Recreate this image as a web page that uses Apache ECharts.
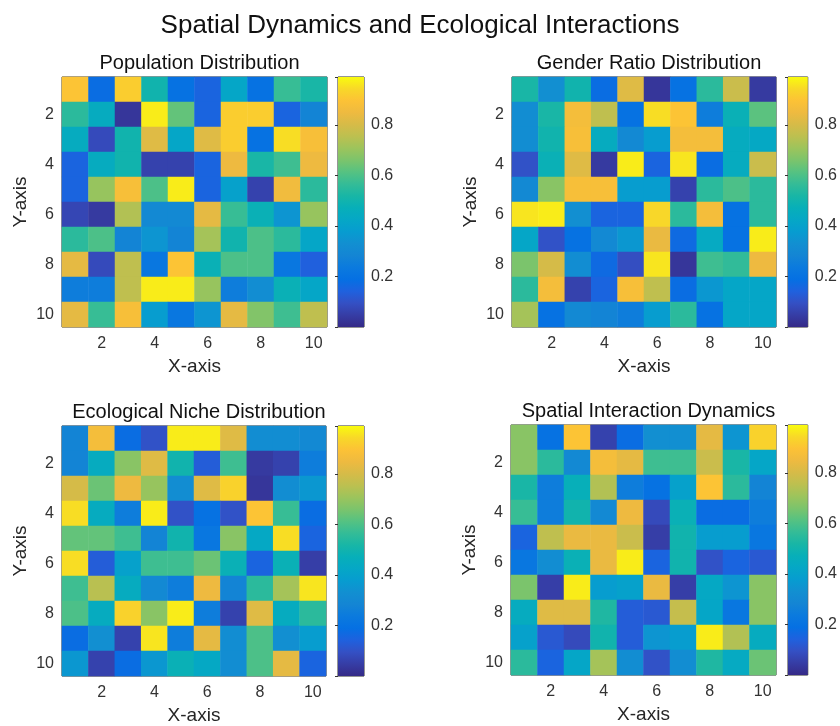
<!DOCTYPE html>
<html>
<head>
<meta charset="utf-8">
<script src="https://cdn.jsdelivr.net/npm/echarts@6/dist/echarts.min.js"></script>
<style>
  html, body { margin: 0; padding: 0; background: #ffffff; }
  #chart { width: 840px; height: 726px; }
</style>
</head>
<body>
<div id="chart"></div>
<script>
// Grid cell labels (1..10 on both axes)
const xCats = ['1', '2', '3', '4', '5', '6', '7', '8', '9', '10'];
const yCats = ['1', '2', '3', '4', '5', '6', '7', '8', '9', '10'];

// Colorbar range and tick labels
const cbRange = [0, 0.99];
const cbTicks = [0.2, 0.4, 0.6, 0.8];

// Each matrix: rows top (y=1) to bottom (y=10), columns x=1..10
const populationRows = [
  [0.90, 0.18, 0.92, 0.50, 0.20, 0.15, 0.42, 0.20, 0.57, 0.52],
  [0.55, 0.45, 0.03, 0.97, 0.63, 0.15, 0.92, 0.92, 0.15, 0.28],
  [0.45, 0.08, 0.50, 0.82, 0.42, 0.82, 0.92, 0.20, 0.95, 0.88],
  [0.15, 0.45, 0.50, 0.06, 0.06, 0.15, 0.85, 0.52, 0.58, 0.85],
  [0.15, 0.70, 0.88, 0.60, 0.97, 0.15, 0.40, 0.06, 0.86, 0.55],
  [0.07, 0.04, 0.74, 0.30, 0.30, 0.83, 0.57, 0.48, 0.35, 0.70],
  [0.55, 0.60, 0.28, 0.35, 0.28, 0.72, 0.50, 0.60, 0.55, 0.42],
  [0.83, 0.08, 0.76, 0.22, 0.90, 0.48, 0.60, 0.60, 0.22, 0.14],
  [0.25, 0.25, 0.76, 0.97, 0.97, 0.70, 0.25, 0.32, 0.48, 0.42],
  [0.83, 0.57, 0.88, 0.38, 0.22, 0.35, 0.83, 0.67, 0.58, 0.76]
];

const genderRows = [
  [0.52, 0.33, 0.50, 0.18, 0.82, 0.03, 0.20, 0.55, 0.78, 0.04],
  [0.32, 0.52, 0.87, 0.76, 0.20, 0.95, 0.90, 0.25, 0.48, 0.62],
  [0.32, 0.50, 0.88, 0.45, 0.30, 0.38, 0.87, 0.87, 0.45, 0.43],
  [0.10, 0.48, 0.82, 0.04, 0.97, 0.15, 0.96, 0.18, 0.45, 0.78],
  [0.30, 0.68, 0.88, 0.88, 0.38, 0.38, 0.06, 0.55, 0.60, 0.55],
  [0.96, 0.97, 0.33, 0.15, 0.15, 0.94, 0.55, 0.87, 0.20, 0.55],
  [0.42, 0.10, 0.20, 0.30, 0.36, 0.84, 0.17, 0.44, 0.20, 0.97],
  [0.66, 0.80, 0.32, 0.17, 0.09, 0.96, 0.03, 0.58, 0.56, 0.85],
  [0.55, 0.87, 0.06, 0.15, 0.88, 0.76, 0.18, 0.36, 0.42, 0.42],
  [0.72, 0.20, 0.30, 0.28, 0.25, 0.38, 0.55, 0.20, 0.42, 0.42]
];

const nicheRows = [
  [0.28, 0.87, 0.18, 0.10, 0.97, 0.97, 0.82, 0.32, 0.32, 0.30],
  [0.28, 0.45, 0.68, 0.82, 0.50, 0.13, 0.58, 0.04, 0.06, 0.25],
  [0.80, 0.64, 0.85, 0.70, 0.32, 0.82, 0.93, 0.03, 0.32, 0.36],
  [0.95, 0.45, 0.25, 0.97, 0.10, 0.20, 0.10, 0.90, 0.57, 0.18],
  [0.63, 0.63, 0.58, 0.28, 0.50, 0.22, 0.68, 0.43, 0.95, 0.15],
  [0.95, 0.13, 0.40, 0.58, 0.58, 0.64, 0.48, 0.15, 0.48, 0.05],
  [0.58, 0.75, 0.45, 0.30, 0.25, 0.85, 0.28, 0.55, 0.72, 0.96],
  [0.60, 0.45, 0.93, 0.68, 0.97, 0.25, 0.06, 0.82, 0.45, 0.55],
  [0.18, 0.33, 0.06, 0.96, 0.25, 0.83, 0.32, 0.60, 0.33, 0.38],
  [0.36, 0.06, 0.18, 0.36, 0.48, 0.43, 0.32, 0.60, 0.83, 0.15]
];

const spatialRows = [
  [0.68, 0.20, 0.90, 0.06, 0.18, 0.33, 0.33, 0.83, 0.35, 0.93],
  [0.68, 0.55, 0.30, 0.87, 0.83, 0.58, 0.58, 0.78, 0.52, 0.42],
  [0.52, 0.25, 0.47, 0.74, 0.25, 0.20, 0.40, 0.90, 0.55, 0.28],
  [0.57, 0.25, 0.50, 0.30, 0.85, 0.08, 0.48, 0.18, 0.18, 0.25],
  [0.15, 0.76, 0.84, 0.84, 0.78, 0.05, 0.50, 0.38, 0.38, 0.22],
  [0.22, 0.32, 0.48, 0.84, 0.97, 0.15, 0.50, 0.10, 0.15, 0.12],
  [0.66, 0.05, 0.97, 0.38, 0.40, 0.84, 0.05, 0.43, 0.35, 0.68],
  [0.45, 0.82, 0.82, 0.53, 0.13, 0.12, 0.77, 0.42, 0.22, 0.68],
  [0.40, 0.12, 0.08, 0.50, 0.13, 0.35, 0.38, 0.97, 0.74, 0.45],
  [0.55, 0.15, 0.42, 0.72, 0.32, 0.10, 0.32, 0.53, 0.44, 0.64]
];

const panelTitles = [
  'Population Distribution',
  'Gender Ratio Distribution',
  'Ecological Niche Distribution',
  'Spatial Interaction Dynamics'
];

// Parula-like colour ramp, slightly richer in the green/gold range
const parula = [
  '#352a87', '#363da5', '#3450c4', '#1f61de', '#0570e3', '#0b7ade',
  '#1485d4', '#128fd1', '#079cd0', '#05a7c6', '#07afb9', '#18b6a6',
  '#34bc97', '#55c282', '#7bc46c', '#9cc45c', '#bcc050', '#d6bb48',
  '#eeba40', '#fcc236', '#f8d828', '#f9fb0e'
];

const matrices = [populationRows, genderRows, nicheRows, spatialRows];

// Panel layout: heatmap box and colorbar box (pixels)
const layout = [
  { hm: { left: 62,  top: 77,  width: 265, height: 250 }, cb: { left: 338, top: 77,  width: 26, height: 250 } },
  { hm: { left: 512, top: 77,  width: 264, height: 250 }, cb: { left: 788, top: 77,  width: 26, height: 250 } },
  { hm: { left: 62,  top: 426, width: 264, height: 250 }, cb: { left: 338, top: 426, width: 26, height: 250 } },
  { hm: { left: 511, top: 425, width: 265, height: 250 }, cb: { left: 788, top: 425, width: 26, height: 250 } }
];

const FONT = 'Liberation Sans, Arial, Helvetica, sans-serif';
const TEXT = '#262626';
const EVEN = (i) => i % 2 === 1;

function toTriples(rows) {
  const out = [];
  rows.forEach((row, yi) => row.forEach((v, xi) => out.push([xi, yi, v])));
  return out;
}

const grids = [], xAxes = [], yAxes = [], series = [], visualMaps = [], titles = [];

titles.push({
  text: 'Spatial Dynamics and Ecological Interactions',
  left: 'center', top: 8,
  textStyle: { fontFamily: FONT, fontSize: 26, fontWeight: 'normal', color: '#111' }
});

matrices.forEach((rows, p) => {
  const L = layout[p];
  const gHm = grids.length;
  grids.push(Object.assign({ show: true, borderColor: '#2a2a2a', borderWidth: 1, backgroundColor: 'transparent' }, L.hm));
  const gCb = grids.length;
  grids.push(Object.assign({ show: true, borderColor: '#2a2a2a', borderWidth: 1, backgroundColor: 'transparent' }, L.cb));

  titles.push({
    text: panelTitles[p],
    left: L.hm.left + L.hm.width / 2, top: L.hm.top - 29, textAlign: 'center',
    textStyle: { fontFamily: FONT, fontSize: 20, fontWeight: 'normal', color: '#111' }
  });

  // heatmap axes
  const xi = xAxes.length;
  xAxes.push({
    type: 'category', gridIndex: gHm, data: xCats,
    name: 'X-axis', nameLocation: 'middle', nameGap: 30,
    nameTextStyle: { fontFamily: FONT, fontSize: 19, color: TEXT },
    axisLine: { show: false },
    axisTick: { show: true, inside: true, length: 3, alignWithLabel: true, interval: EVEN, lineStyle: { color: '#333' } },
    axisLabel: { interval: EVEN, margin: 9, fontFamily: FONT, fontSize: 16, color: '#333' },
    splitLine: { show: false }
  });
  const yi = yAxes.length;
  yAxes.push({
    type: 'category', gridIndex: gHm, data: yCats, inverse: true,
    name: 'Y-axis', nameLocation: 'middle', nameGap: 32, nameRotate: 90,
    nameTextStyle: { fontFamily: FONT, fontSize: 19, color: TEXT },
    axisLine: { show: false },
    axisTick: { show: true, inside: true, length: 3, alignWithLabel: true, interval: EVEN, lineStyle: { color: '#333' } },
    axisLabel: { interval: EVEN, margin: 8, fontFamily: FONT, fontSize: 16, color: '#333' },
    splitLine: { show: false }
  });

  // colorbar axes
  const cxi = xAxes.length;
  xAxes.push({ type: 'value', gridIndex: gCb, min: 0, max: 1, show: false });
  const cyi = yAxes.length;
  yAxes.push({
    type: 'value', gridIndex: gCb, min: cbRange[0], max: cbRange[1], interval: 0.2, position: 'right',
    axisLine: { show: false },
    axisTick: { show: true, inside: true, length: 3, lineStyle: { color: '#333' } },
    axisLabel: {
      margin: 7, fontFamily: FONT, fontSize: 16, color: '#333',
      formatter: (v) => cbTicks.some(t => Math.abs(t - v) < 1e-6) ? v.toFixed(1) : ''
    },
    splitLine: { show: false }
  });

  const si = series.length;
  series.push({
    type: 'heatmap', xAxisIndex: xi, yAxisIndex: yi,
    data: toTriples(rows), silent: true, animation: false
  });
  visualMaps.push({
    type: 'continuous', show: false, seriesIndex: si,
    min: cbRange[0], max: cbRange[1], dimension: 2,
    inRange: { color: parula }
  });

  // colorbar drawn as a gradient-filled rectangle spanning the value range
  series.push({
    type: 'custom', xAxisIndex: cxi, yAxisIndex: cyi, silent: true, animation: false,
    data: [cbRange],
    renderItem: (params, api) => {
      const lo = api.coord([0, api.value(0)]);
      const hi = api.coord([1, api.value(1)]);
      const stops = parula.map((c, i) => ({ offset: i / (parula.length - 1), color: c }));
      return {
        type: 'rect',
        shape: { x: lo[0], y: hi[1], width: hi[0] - lo[0], height: lo[1] - hi[1] },
        style: { fill: new echarts.graphic.LinearGradient(0, 1, 0, 0, stops) }
      };
    }
  });
});

const chart = echarts.init(document.getElementById('chart'), null, { renderer: 'canvas' });
chart.setOption({
  backgroundColor: '#ffffff',
  animation: false,
  title: titles,
  grid: grids,
  xAxis: xAxes,
  yAxis: yAxes,
  visualMap: visualMaps,
  series: series
});
</script>
</body>
</html>
